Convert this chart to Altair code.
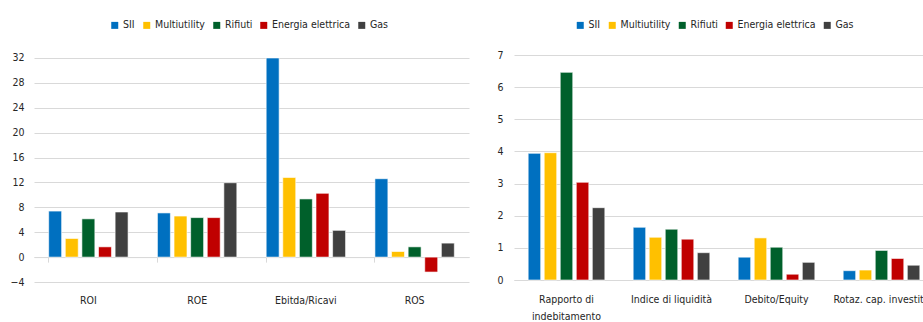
import altair as alt
import pandas as pd

series = ["SII", "Multiutility", "Rifiuti", "Energia elettrica", "Gas"]
colors = ["#0070C0", "#FFC000", "#00602B", "#C00000", "#404040"]

left_cats = ["ROI", "ROE", "Ebitda/Ricavi", "ROS"]
left_sii = [7.4, 7.1, 32.0, 12.6]
left_multi = [3.0, 6.6, 12.8, 0.9]
left_rifiuti = [6.15, 6.35, 9.35, 1.65]
left_energia = [1.65, 6.35, 10.25, -2.4]
left_gas = [7.25, 11.95, 4.3, 2.25]

right_cats = ["Rapporto di indebitamento", "Indice di liquidità", "Debito/Equity", "Rotaz. cap. investito"]
right_sii = [3.94, 1.64, 0.71, 0.29]
right_multi = [3.96, 1.33, 1.31, 0.31]
right_rifiuti = [6.46, 1.58, 1.02, 0.92]
right_energia = [3.04, 1.27, 0.18, 0.67]
right_gas = [2.25, 0.85, 0.55, 0.46]

left_ticks = [-4, 0, 4, 8, 12, 16, 20, 24, 28, 32]
right_ticks = [0, 1, 2, 3, 4, 5, 6, 7]

FONT = "'DejaVu Sans Condensed', Roboto"
FS = 10.5
TXT = "#262626"
GRID = "#d9d9d9"


def to_long(cats, cols):
    rows = []
    for s, vals in zip(series, cols):
        for c, v in zip(cats, vals):
            rows.append({"cat": c, "serie": s, "val": v})
    return pd.DataFrame(rows)


df_left = to_long(left_cats, [left_sii, left_multi, left_rifiuti, left_energia, left_gas])
df_right = to_long(right_cats, [right_sii, right_multi, right_rifiuti, right_energia, right_gas])


def panel(df, cats, ydomain, yticks, width, height, x_axis, lx, ly, ypad):
    return alt.Chart(df).mark_bar(stroke="white", strokeWidth=0.6).encode(
        x=alt.X("cat:N", sort=cats, title=None,
                scale=alt.Scale(paddingInner=0.27, paddingOuter=0.135), axis=x_axis),
        xOffset=alt.XOffset("serie:N", sort=series,
                            scale=alt.Scale(paddingInner=0.22, paddingOuter=0)),
        y=alt.Y("val:Q", title=None,
                scale=alt.Scale(domain=ydomain, nice=False, zero=False),
                axis=alt.Axis(values=yticks, domain=False, ticks=False, gridColor=GRID,
                              gridWidth=1.2, labelPadding=ypad, labelFont=FONT,
                              labelFontSize=FS, labelColor=TXT)),
        color=alt.Color("serie:N", sort=series,
                        scale=alt.Scale(domain=series, range=colors),
                        legend=alt.Legend(orient="none", legendX=lx, legendY=ly,
                                          direction="horizontal", title=None,
                                          symbolType="square", symbolSize=49,
                                          symbolStrokeWidth=0, labelFont=FONT,
                                          labelFontSize=FS, labelColor=TXT,
                                          labelOffset=3, columnPadding=6)),
    ).properties(width=width, height=height)


left_axis = alt.Axis(offset=-24.9, bandPosition=0, tickSize=5, tickColor=GRID,
                     domainColor=GRID, labelPadding=33, labelAngle=0,
                     labelFont=FONT, labelFontSize=FS, labelColor=TXT)
right_axis = alt.Axis(ticks=False, domainColor=GRID, labelPadding=14, labelAngle=0,
                      labelFont=FONT, labelFontSize=FS, labelColor=TXT,
                      labelLineHeight=17, labelLimit=200,
                      labelExpr="datum.value == 'Rapporto di indebitamento' ? ['Rapporto di', 'indebitamento'] : datum.label")

left = panel(df_left, left_cats, [-4, 32.48], left_ticks, 435, 227, left_axis, 75.5, -35, 10)
right = panel(df_right, right_cats, [0, 7], right_ticks, 420, 225, right_axis, 61, -35, 11)

chart = alt.hconcat(left, right, spacing=27).resolve_scale(
    color="independent", x="independent", y="independent", xOffset="independent"
).properties(padding={"left": 10, "top": 20, "right": -11, "bottom": 0}).configure_view(stroke=None)

chart.save("out.html", embed_options={"renderer": "svg", "actions": False})
